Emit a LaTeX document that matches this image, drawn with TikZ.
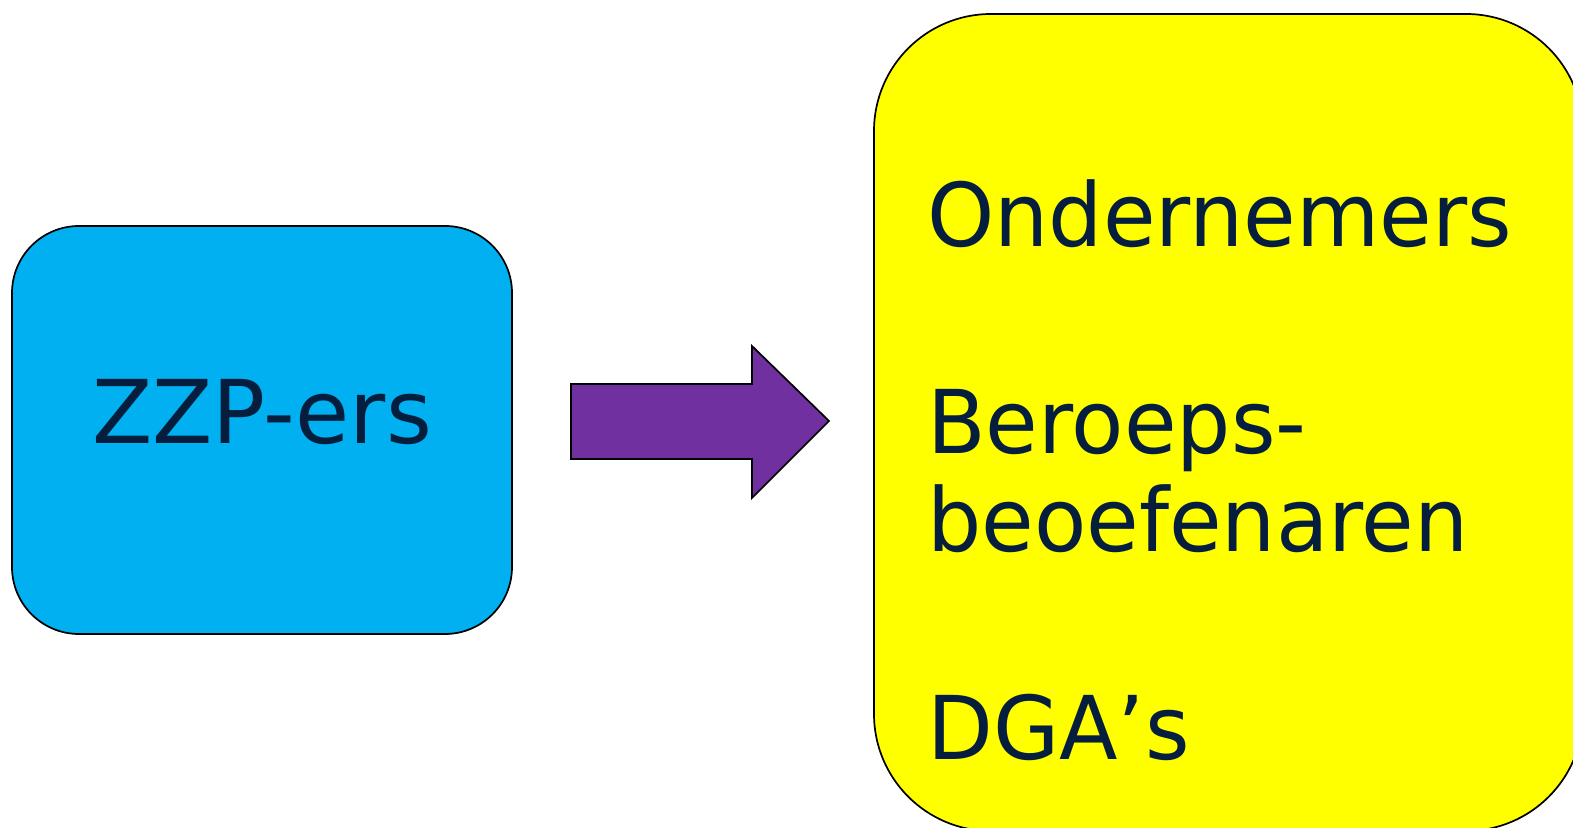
\documentclass[tikz,border=0pt]{standalone}
\usepackage{fontspec}
\setmainfont{DejaVu Sans}
\newfontfamily\narrowfont[FakeStretch=0.972]{DejaVu Sans}
\definecolor{boxblue}{HTML}{00B0F0}
\definecolor{boxyellow}{HTML}{FFFF00}
\definecolor{arrowpurple}{HTML}{7030A0}
\definecolor{navytext}{HTML}{061E3E}
\begin{document}
\begin{tikzpicture}[x=1pt,y=1pt,
  outline/.style={draw=black,line width=1.7pt},
  bigtext/.style={text=navytext,font=\fontsize{88}{97}\selectfont,inner sep=0pt},
  listtext/.style={bigtext,font=\narrowfont\fontsize{88}{97}\selectfont}]
\useasboundingbox (0,0) rectangle (1573,827);
\clip (0,0) rectangle (1573,827);
% blue box
\draw[outline,fill=boxblue,rounded corners=67pt] (12,193) rectangle (512,601);
\node[bigtext,anchor=base] (zzp) at (262,383) {ZZP-ers};
% yellow box
\draw[outline,fill=boxyellow,rounded corners=117pt] (874,-4) rectangle (1583,813);
\node[listtext,anchor=base west] (ond) at (927,580) {Ondernemers};
\node[listtext,anchor=base west] (ber) at (927,373) {Beroeps-};
\node[listtext,anchor=base west] (beo) at (927,275) {beoefenaren};
\node[listtext,anchor=base west] (dga) at (927,68) {DGA’s};
% block arrow
\coordinate (a1) at (571,443);
\coordinate (a2) at (752,443);
\coordinate (a3) at (752,481);
\coordinate (a4) at (829,406);
\coordinate (a5) at (752,329);
\coordinate (a6) at (752,368);
\coordinate (a7) at (571,368);
\draw[outline,fill=arrowpurple,line join=miter] (a1) -- (a2) -- (a3) -- (a4) -- (a5) -- (a6) -- (a7) -- cycle;
\end{tikzpicture}
\end{document}
